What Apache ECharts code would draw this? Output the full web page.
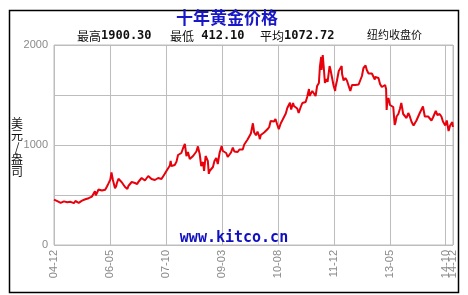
<!DOCTYPE html>
<html>
<head>
<meta charset="utf-8">
<script src="https://cdn.jsdelivr.net/npm/echarts@6/dist/echarts.min.js"></script>
<style>
html,body{margin:0;padding:0;background:#fff;}
#c{width:468px;height:295px;}
</style>
</head>
<body>
<div id="c"></div>
<script>
// ---- data ----
var dates = [
'2004-12-01','2004-12-15',
'2005-01-01','2005-01-15','2005-02-01','2005-02-15','2005-03-01','2005-03-15','2005-04-01','2005-04-15','2005-05-01','2005-05-15','2005-06-01','2005-06-15','2005-07-01','2005-07-15','2005-08-01','2005-08-15','2005-09-01','2005-09-15','2005-10-01','2005-10-15','2005-11-01','2005-11-15','2005-12-01','2005-12-12','2005-12-20',
'2006-01-01','2006-01-15','2006-02-01','2006-02-15','2006-03-01','2006-03-15','2006-04-01','2006-04-15','2006-05-01','2006-05-12','2006-05-25','2006-06-01','2006-06-14','2006-06-25','2006-07-01','2006-07-15','2006-08-01','2006-08-15','2006-09-01','2006-09-15','2006-10-01','2006-10-06','2006-10-15','2006-11-01','2006-11-15','2006-12-01','2006-12-15',
'2007-01-01','2007-01-05','2007-01-15','2007-02-01','2007-02-15','2007-03-01','2007-03-15','2007-04-01','2007-04-15','2007-05-01','2007-05-15','2007-06-01','2007-06-15','2007-07-01','2007-07-15','2007-08-01','2007-08-15','2007-09-01','2007-09-15','2007-10-01','2007-10-15','2007-11-01','2007-11-08','2007-11-15','2007-12-01','2007-12-15',
'2008-01-01','2008-01-15','2008-02-01','2008-02-15','2008-03-01','2008-03-17','2008-04-01','2008-04-15','2008-05-01','2008-05-15','2008-06-01','2008-06-15','2008-07-01','2008-07-15','2008-08-01','2008-08-15','2008-09-01','2008-09-11','2008-09-25','2008-10-01','2008-10-15','2008-10-24','2008-11-01','2008-11-15','2008-12-01','2008-12-15',
'2009-01-01','2009-01-15','2009-02-01','2009-02-20','2009-03-01','2009-03-15','2009-04-01','2009-04-15','2009-05-01','2009-05-15','2009-06-01','2009-06-15','2009-07-01','2009-07-15','2009-08-01','2009-08-15','2009-09-01','2009-09-15','2009-10-01','2009-10-15','2009-11-01','2009-11-15','2009-12-03','2009-12-15',
'2010-01-01','2010-01-15','2010-02-01','2010-02-05','2010-02-15','2010-03-01','2010-03-15','2010-04-01','2010-04-15','2010-05-01','2010-05-14','2010-06-01','2010-06-15','2010-06-28','2010-07-15','2010-07-28','2010-08-15','2010-09-01','2010-09-15','2010-10-01','2010-10-15','2010-11-01','2010-11-09','2010-11-20','2010-12-07','2010-12-15',
'2011-01-01','2011-01-15','2011-01-28','2011-02-15','2011-03-01','2011-03-15','2011-04-01','2011-04-15','2011-05-01','2011-05-06','2011-05-15','2011-06-01','2011-06-15','2011-07-01','2011-07-15','2011-08-01','2011-08-10','2011-08-22','2011-08-25','2011-09-06','2011-09-15','2011-09-26','2011-10-10','2011-10-20','2011-11-08','2011-11-15','2011-12-01','2011-12-15','2011-12-29',
'2012-01-01','2012-01-15','2012-02-01','2012-02-28','2012-03-01','2012-03-15','2012-04-01','2012-04-15','2012-05-01','2012-05-16','2012-06-01','2012-06-15','2012-07-01','2012-07-15','2012-08-01','2012-08-15','2012-09-01','2012-09-15','2012-10-04','2012-10-15','2012-11-01','2012-11-15','2012-12-01','2012-12-15','2012-12-28',
'2013-01-01','2013-01-15','2013-02-01','2013-02-15','2013-03-01','2013-03-15','2013-04-01','2013-04-10','2013-04-15','2013-04-20','2013-05-01','2013-05-15','2013-06-01','2013-06-15','2013-06-28','2013-07-05','2013-07-15','2013-08-01','2013-08-15','2013-08-28','2013-09-15','2013-10-01','2013-10-15','2013-11-01','2013-11-15','2013-12-01','2013-12-19',
'2014-01-01','2014-01-15','2014-02-01','2014-02-15','2014-03-14','2014-03-31','2014-04-15','2014-05-01','2014-05-15','2014-06-01','2014-06-15','2014-07-10','2014-07-25','2014-08-15','2014-09-01','2014-09-15','2014-10-06','2014-10-20','2014-11-06','2014-11-20','2014-12-01','2014-12-10','2014-12-15'
];
var prices = [
453,440,
438,422,422,425,436,444,428,428,432,420,418,440,427,422,430,444,444,457,472,468,464,484,500,537,497,
517,555,572,545,564,553,585,616,654,725,650,640,567,590,620,662,642,628,625,580,600,560,590,610,630,648,620,
632,609,630,650,670,670,645,665,690,680,660,665,650,650,670,665,660,672,712,743,760,795,841,790,783,800,
834,900,905,920,970,1011,888,930,860,877,890,880,935,986,910,790,830,740,890,880,840,712,740,730,780,840,
870,810,920,990,940,920,920,880,885,925,975,935,935,930,955,945,955,1005,1000,1055,1045,1115,1217,1125,
1097,1135,1085,1058,1100,1120,1125,1115,1157,1180,1240,1220,1235,1260,1200,1158,1215,1250,1270,1315,1370,1350,1422,1355,1420,1390,
1405,1365,1320,1375,1420,1400,1430,1480,1560,1490,1495,1540,1525,1490,1590,1620,1780,1880,1750,1900,1780,1620,1660,1630,1790,1760,1740,1590,1540,
1575,1645,1740,1790,1710,1645,1670,1645,1665,1540,1600,1620,1600,1585,1605,1600,1690,1770,1795,1750,1715,1720,1715,1695,1655,
1680,1670,1670,1610,1580,1595,1600,1560,1350,1420,1470,1400,1405,1380,1200,1225,1285,1310,1360,1420,1310,1290,1270,1320,1285,1230,1195,
1215,1245,1245,1320,1385,1285,1300,1285,1295,1245,1275,1340,1300,1310,1285,1235,1195,1245,1140,1195,1200,1230,1180
];
var xTickLabels = ['04-12','06-05','07-10','09-03','10-08','11-12','13-05','14-10'];
var xEndLabel = '14-12';
var yTickLabels = {0:'0',1000:'1000',2000:'2000'};
var titleText = '十年黄金价格';
var statHigh = '1900.30', statLow = '412.10', statAvg = '1072.72';

// ---- scale: months since 2004-12-01 ----
function monthIndex(d){
  var p = d.split('-');
  return (parseInt(p[0],10)-2004)*12 + (parseInt(p[1],10)-12) + (parseInt(p[2],10)-1)/30.5;
}
var seriesData = dates.map(function(d,i){ return [monthIndex(d), prices[i]]; });
var X_MAX = 120.5, X_INT = 16.9;

var chart = echarts.init(document.getElementById('c'), null, {renderer:'canvas'});
var cjk = '"Noto Sans CJK SC", sans-serif';
var mono = '"DejaVu Sans Mono", monospace';
var labelFont = '"Liberation Sans", Arial, sans-serif';
chart.setOption({
  animation:false,
  backgroundColor:'#ffffff',
  grid:{left:54, top:45, right:15, bottom:50, show:true, borderColor:'#bdbdbd', borderWidth:1},
  xAxis:[{
    type:'value', min:0, max:X_MAX, interval:X_INT,
    axisLine:{show:false}, axisTick:{show:false},
    splitLine:{show:true, lineStyle:{color:'#bdbdbd', width:1}},
    axisLabel:{
      rotate:90, margin:5, color:'#8a8a8a', fontSize:11, fontFamily:labelFont,
      showMaxLabel:false, showMinLabel:true, hideOverlap:false,
      formatter:function(v){
        var k = Math.round(v / X_INT);
        return xTickLabels[k] || '';
      }
    }
  },{
    type:'value', min:0, max:X_MAX, interval:X_MAX, position:'bottom',
    axisLine:{show:false}, axisTick:{show:false}, splitLine:{show:false},
    axisLabel:{
      rotate:90, margin:5, color:'#8a8a8a', fontSize:11, fontFamily:labelFont,
      showMaxLabel:true, showMinLabel:false,
      formatter:function(v){ return v >= X_MAX - 0.01 ? xEndLabel : ''; }
    }
  }],
  yAxis:{
    type:'value', min:0, max:2000, interval:500,
    axisLine:{show:false}, axisTick:{show:false},
    splitLine:{show:true, lineStyle:{color:'#bdbdbd', width:1}},
    axisLabel:{
      margin:6, color:'#8a8a8a', fontSize:11, fontFamily:labelFont,
      formatter:function(v){ return yTickLabels[v] || ''; }
    }
  },
  series:[{
    type:'line', data:seriesData, showSymbol:false, symbol:'none', xAxisIndex:0,
    lineStyle:{color:'#e8000b', width:2}, z:3
  }],
  graphic:[
    {type:'rect', shape:{x:9.5, y:10.5, width:449, height:282}, style:{fill:'none', stroke:'#000', lineWidth:1.5}, z:-1},
    {type:'text', x:227, y:18, style:{text:titleText, fill:'#1818c8', font:'bold 17px '+cjk, textAlign:'center', textVerticalAlign:'middle'}},
    {type:'text', x:77, y:36, style:{
      rich:{c:{font:'12px '+cjk, fill:'#111'}, n:{font:'bold 12px '+mono, fill:'#111'}},
      text:'{c|最高}{n|'+statHigh+'}', textVerticalAlign:'middle'}},
    {type:'text', x:170, y:36, style:{
      rich:{c:{font:'12px '+cjk, fill:'#111'}, n:{font:'bold 12px '+mono, fill:'#111'}},
      text:'{c|最低}{n| '+statLow+'}', textVerticalAlign:'middle'}},
    {type:'text', x:260, y:36, style:{
      rich:{c:{font:'12px '+cjk, fill:'#111'}, n:{font:'bold 12px '+mono, fill:'#111'}},
      text:'{c|平均}{n|'+statAvg+'}', textVerticalAlign:'middle'}},
    {type:'text', x:367, y:35, style:{text:'纽约收盘价', font:'11px '+cjk, fill:'#111', textVerticalAlign:'middle'}},
    {type:'text', x:17, y:147, style:{text:'美\n元\n/\n盎\n司', font:'12px '+cjk, lineHeight:12, fill:'#111', textAlign:'center', textVerticalAlign:'middle'}},
    {type:'text', x:234, y:238, style:{text:'www.kitco.cn', font:'bold 15px '+mono, fill:'#1010c0', textAlign:'center', textVerticalAlign:'middle'}, z:10}
  ]
});
</script>
</body>
</html>
